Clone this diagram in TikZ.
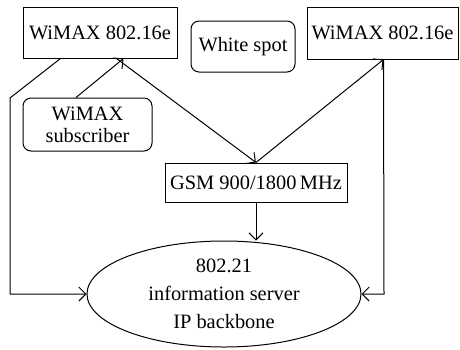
\documentclass[tikz,border=0pt]{standalone}
\usepackage{fontspec}
\setmainfont{Liberation Serif}
\usetikzlibrary{shapes.geometric, arrows.meta}

\tikzset{
  netbox/.style = {draw, line width=0.5pt, rectangle, inner sep=1pt, align=center},
  spotbox/.style = {netbox, rounded corners=4pt},
  link/.style = {line width=0.5pt, -{Straight Barb[length=3.5pt, width=7pt]}},
}

\begin{document}
\begin{tikzpicture}[x=0.5pt, y=-0.5pt, font=\fontsize{10.2}{11}\selectfont]

\useasboundingbox (0,0) rectangle (460,349);

% access networks
\node[netbox, minimum width=77pt, minimum height=25.5pt] (wl) at (100,32.5) {WiMAX 802.16e};
\node[netbox, minimum width=75.5pt, minimum height=26pt] (wr) at (382.5,33) {WiMAX 802.16e};
\node[spotbox, minimum width=52pt, minimum height=25.5pt] (ws) at (243,46.5) {White spot};
\node[spotbox, minimum width=64.5pt, minimum height=26.5pt] (sub) at (87.5,124.5) {WiMAX\\subscriber};
\node[netbox, minimum width=91pt, minimum height=19.5pt] (gsm) at (256,182.5) {GSM 900/1800\,MHz};

% core
\node[draw, ellipse, line width=0.5pt, minimum width=137pt, minimum height=53pt, inner sep=0pt,
      align=center, font=\fontsize{10.2}{14}\selectfont] (ell) at (224,294)
  {802.21\\information server\\IP backbone};

\coordinate (lb) at (10,98);
\coordinate (lc) at (10,294);
\coordinate (rc) at (384,294);

\draw[link] ([xshift=19pt]wl.south west) -- (lb) -- (lc) -- (ell.west);
\draw[link] ([xshift=-5.75pt]sub.north) -- ([xshift=50.5pt]wl.south west);
\draw[link] ([xshift=47pt]wl.south west) -- (gsm.north);
\draw[link] (gsm.north) -- ([xshift=38.5pt]wr.south west);
\draw[link] ([xshift=38.5pt]wr.south west) -- (rc) -- (ell.east);
\draw[link] (gsm.south) -- (gsm.south |- ell.north);

\end{tikzpicture}
\end{document}
